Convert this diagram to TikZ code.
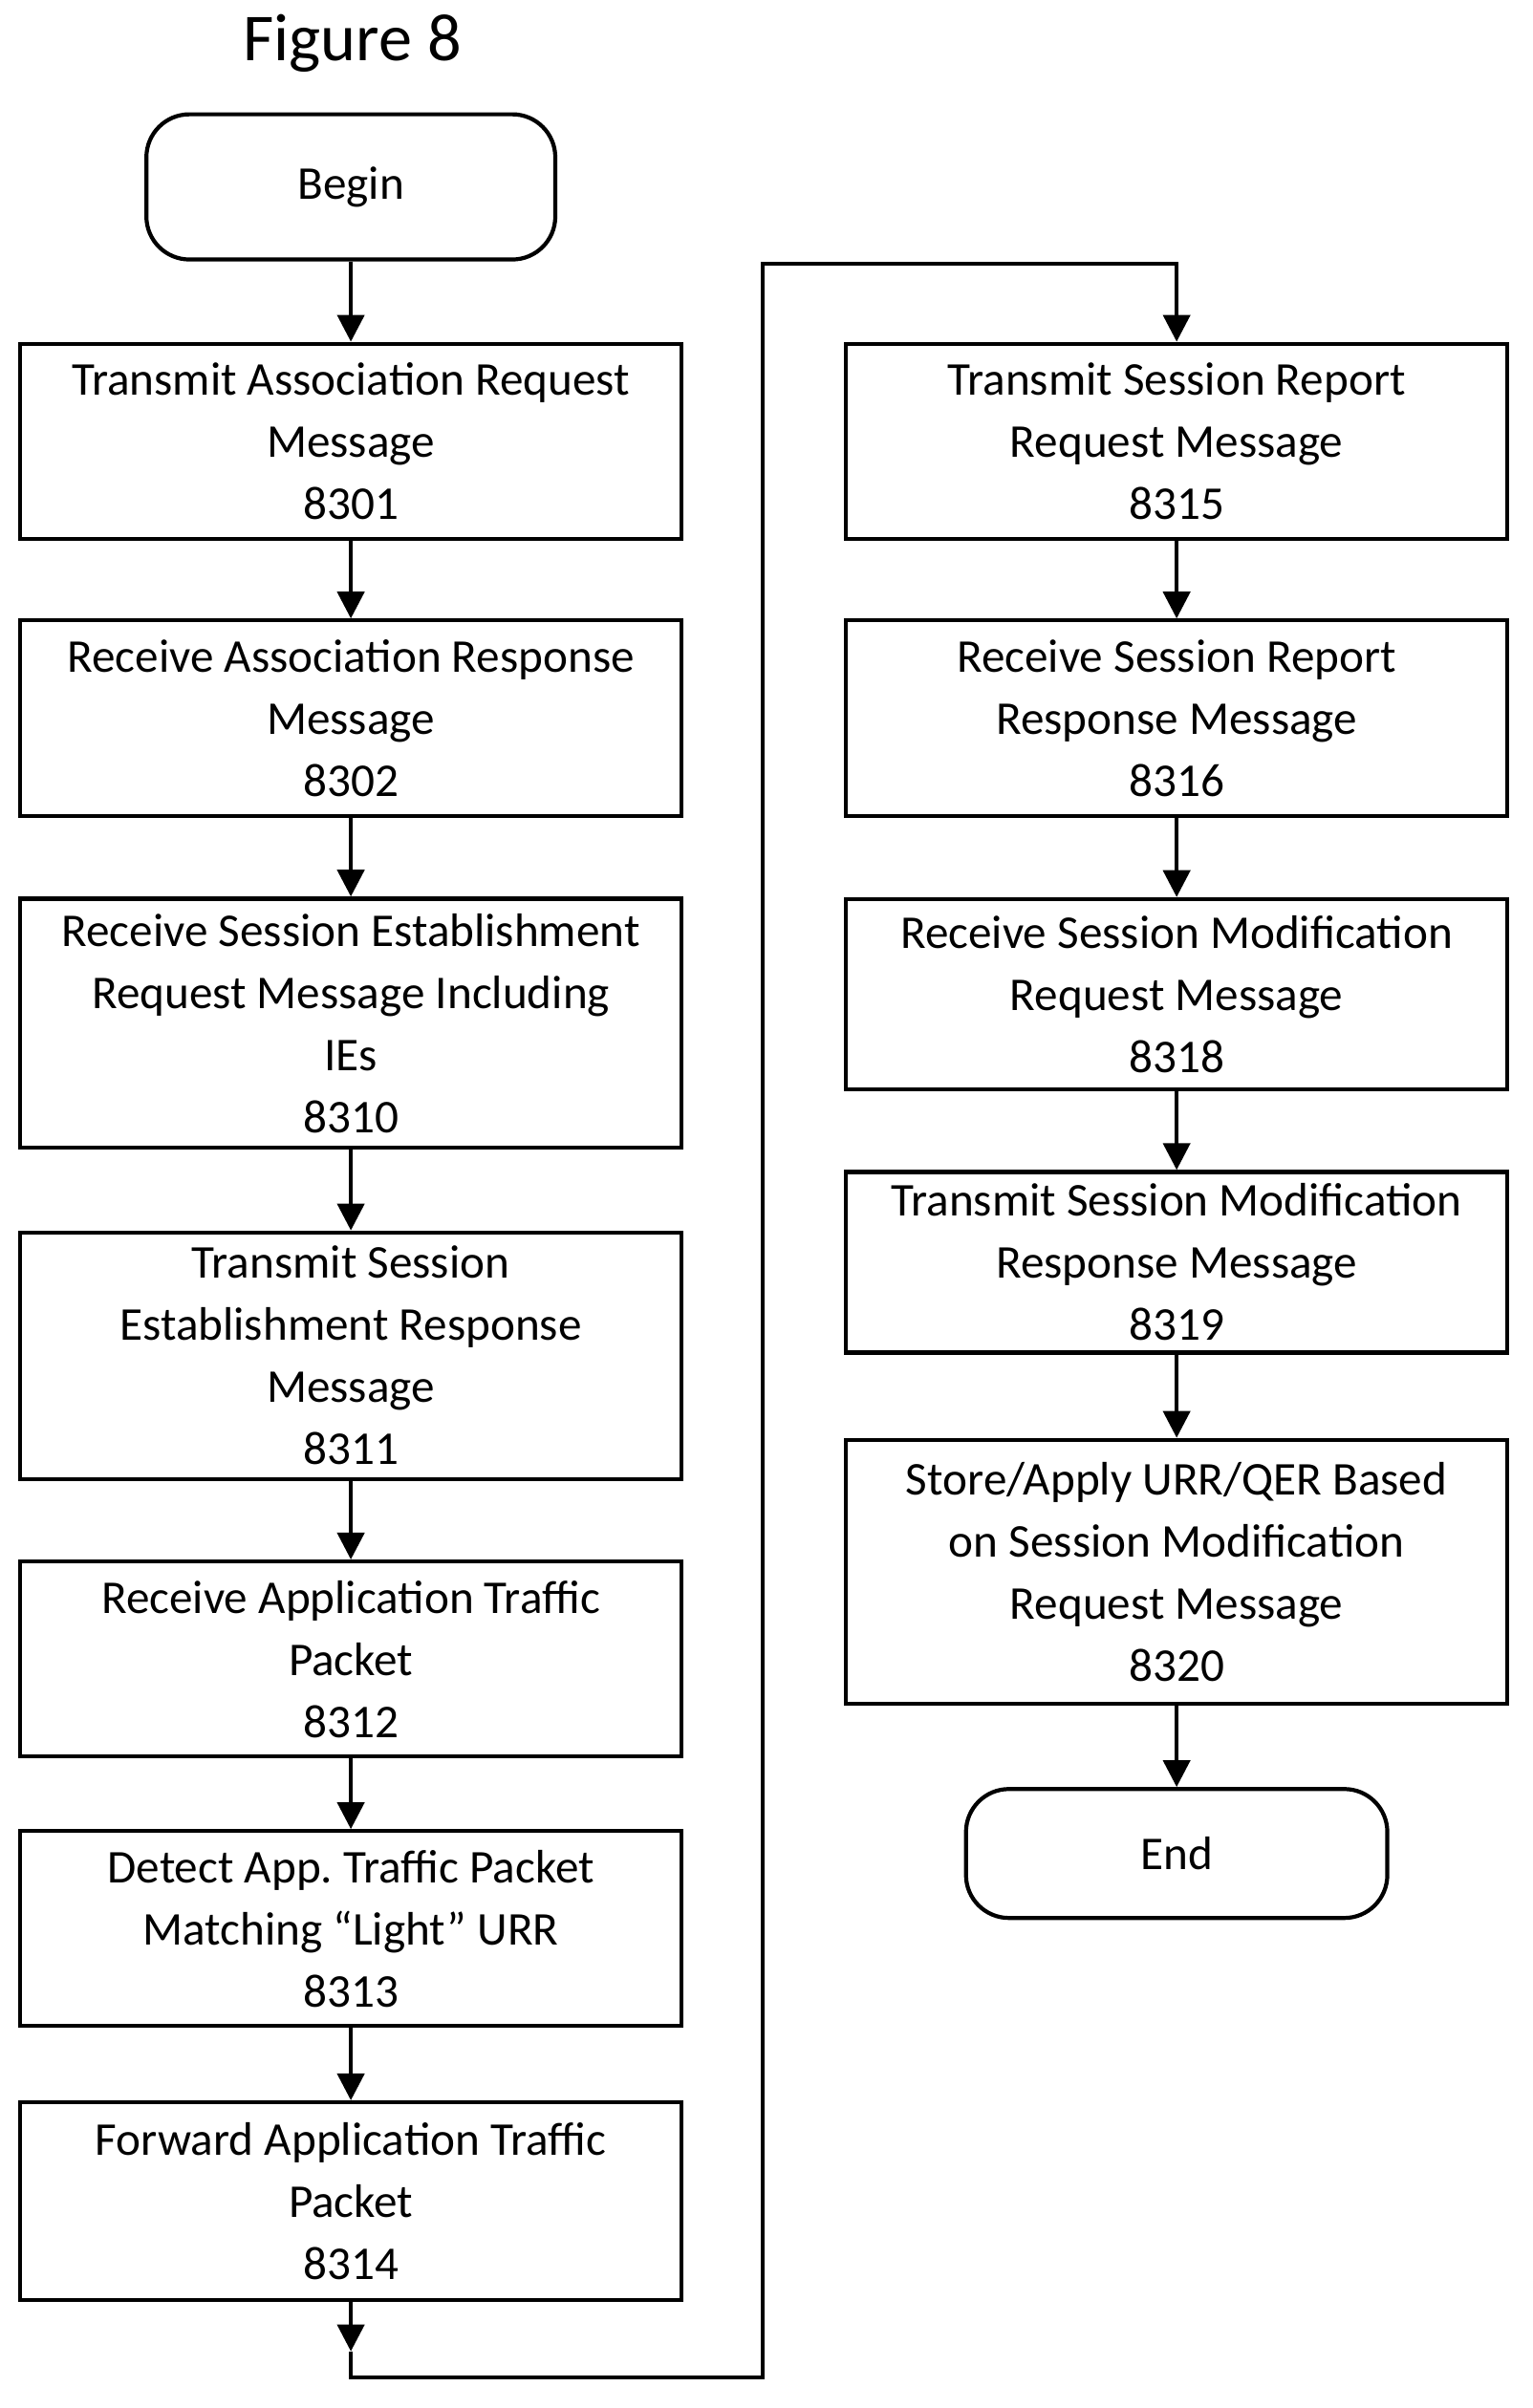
\documentclass[tikz,border=0pt]{standalone}
\usepackage{fontspec}
\setmainfont{Carlito}
\usetikzlibrary{positioning,arrows.meta}
\tikzset{
  box/.style={draw, line width=1.2pt, minimum width=6.92cm, align=center, font=\fontsize{14}{18.5}\selectfont},
  term/.style={draw, line width=1.2pt, rounded corners=0.45cm, align=center, font=\fontsize{14}{18.5}\selectfont},
  flow/.style={line width=1.2pt, -{Triangle[length=8pt,width=8pt]}}
}
\begin{document}
\begin{tikzpicture}[x=0.01603cm, y=-0.01603cm]
\useasboundingbox (0,0) rectangle (1000,1572);
\node[font=\fontsize{20}{24}\selectfont] (fig) at (230,28) {Figure 8};
\node[term, minimum width=4.28cm, minimum height=1.52cm] (begin) at (229,122) {Begin};
\node[box, minimum height=2.04cm] (s8301) at (229,288) {Transmit Association Request\\Message\\8301};
\node[box, minimum height=2.05cm] (s8302) at (229,469) {Receive Association Response\\Message\\8302};
\node[box, minimum height=2.61cm] (s8310) at (229,668) {Receive Session Establishment\\Request Message Including\\IEs\\8310};
\node[box, minimum height=2.58cm] (s8311) at (229,885) {Transmit Session\\Establishment Response\\Message\\8311};
\node[box, minimum height=2.04cm] (s8312) at (229,1083) {Receive Application Traffic\\Packet\\8312};
\node[box, minimum height=2.04cm] (s8313) at (229,1259) {Detect App.\ Traffic Packet\\Matching “Light” URR\\8313};
\node[box, minimum height=2.07cm] (s8314) at (229,1437) {Forward Application Traffic\\Packet\\8314};
\node[box, minimum height=2.04cm] (s8315) at (768,288) {Transmit Session Report\\Request Message\\8315};
\node[box, minimum height=2.05cm] (s8316) at (768,469) {Receive Session Report\\Response Message\\8316};
\node[box, minimum height=1.99cm] (s8318) at (768,649) {Receive Session Modification\\Request Message\\8318};
\node[box, minimum height=1.89cm] (s8319) at (768,824) {Transmit Session Modification\\Response Message\\8319};
\node[box, minimum height=2.76cm] (s8320) at (768,1026) {Store/Apply URR/QER Based\\on Session Modification\\Request Message\\8320};
\node[term, minimum width=4.41cm, minimum height=1.35cm] (end) at (768,1210) {End};
\coordinate (c0) at (229,1535);
\coordinate (c1) at (229,1552);
\coordinate (c2) at (498,1552);
\coordinate (c3) at (498,172);
\coordinate (c4) at (768,172);
\draw[flow] (begin) -- (s8301);
\draw[flow] (s8301) -- (s8302);
\draw[flow] (s8302) -- (s8310);
\draw[flow] (s8310) -- (s8311);
\draw[flow] (s8311) -- (s8312);
\draw[flow] (s8312) -- (s8313);
\draw[flow] (s8313) -- (s8314);
\draw[flow] (s8314) -- (c0);
\draw[flow] (c0) -- (c1) -- (c2) -- (c3) -- (c4) -- (s8315);
\draw[flow] (s8315) -- (s8316);
\draw[flow] (s8316) -- (s8318);
\draw[flow] (s8318) -- (s8319);
\draw[flow] (s8319) -- (s8320);
\draw[flow] (s8320) -- (end);
\end{tikzpicture}
\end{document}
